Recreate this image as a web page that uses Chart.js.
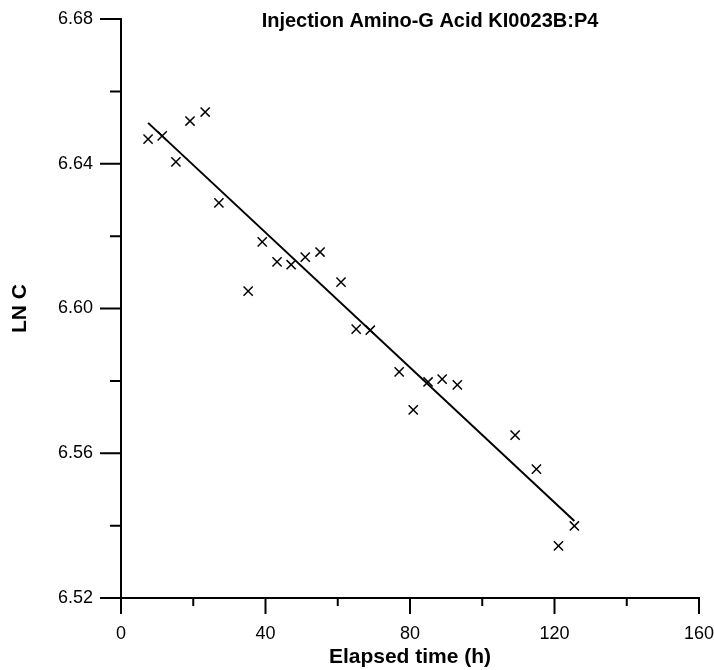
<!DOCTYPE html>
<html>
<head>
<meta charset="utf-8">
<title>Injection Amino-G Acid KI0023B:P4</title>
<script src="https://cdn.jsdelivr.net/npm/chart.js@4.4.1/dist/chart.umd.min.js"></script>
<style>
    html, body { margin: 0; padding: 0; background: #fff; }
    #wrap { width: 714px; height: 670px; }
</style>
</head>
<body>
<div id="wrap"><canvas id="lnChart" width="714" height="670"></canvas></div>
<script>
// Measured points (elapsed time in hours, ln of concentration)
const elapsedHours = [7.5, 11.4, 15.2, 19.1, 23.3, 27.1, 35.2, 39.1, 43.2, 47.1, 51.0, 55.1,
    60.9, 65.1, 69.0, 77.0, 80.9, 85.0, 88.9, 93.1, 109.1, 115.0, 121.1, 125.5];
const lnConc = [6.6468, 6.6477, 6.6405, 6.6518, 6.6543, 6.6292, 6.6048, 6.6184, 6.6129, 6.6121, 6.6142, 6.6156,
    6.6073, 6.5943, 6.5940, 6.5825, 6.5720, 6.5797, 6.5805, 6.5789, 6.5650, 6.5556, 6.5344, 6.5399];

// Fitted line end points
const fitHours = [7.5, 125.5];
const fitLnConc = [6.6513, 6.5413];

// Axis ticks
const xTicks = [0, 40, 80, 120, 160];
const yTicks = [6.52, 6.56, 6.60, 6.64, 6.68];

const FONT = '"Liberation Sans", Arial, sans-serif';

(function() {
    'use strict';

    /**
     * Major and minor tick marks drawn outside the axes, plus the title
     */
    const tickMarks = {
        id: 'tickMarks',
        afterDraw(chart) {
            const ctx = chart.ctx;
            const xs = chart.scales.x;
            const ys = chart.scales.y;
            ctx.save();
            ctx.strokeStyle = '#000';
            ctx.lineWidth = 2;
            ctx.beginPath();
            for (let i = 0; i < xTicks.length; i++) {
                const px = xs.getPixelForValue(xTicks[i]);
                ctx.moveTo(px, ys.bottom);
                ctx.lineTo(px, ys.bottom + 16);
                if (i < xTicks.length - 1) {
                    const mid = xs.getPixelForValue((xTicks[i] + xTicks[i + 1]) / 2);
                    ctx.moveTo(mid, ys.bottom);
                    ctx.lineTo(mid, ys.bottom + 8);
                }
            }
            for (let i = 0; i < yTicks.length; i++) {
                const py = ys.getPixelForValue(yTicks[i]);
                ctx.moveTo(xs.left, py);
                ctx.lineTo(xs.left - 21, py);
                if (i < yTicks.length - 1) {
                    const mid = ys.getPixelForValue((yTicks[i] + yTicks[i + 1]) / 2);
                    ctx.moveTo(xs.left, mid);
                    ctx.lineTo(xs.left - 11, mid);
                }
            }
            ctx.stroke();

            // chart title sits inside the plot, top right
            ctx.fillStyle = '#000';
            ctx.font = 'bold 20px ' + FONT;
            ctx.textAlign = 'center';
            ctx.textBaseline = 'middle';
            ctx.fillText('Injection Amino-G Acid KI0023B:P4', 430, 21);
            ctx.restore();
        }
    };

    const points = elapsedHours.map((h, i) => ({ x: h, y: lnConc[i] }));
    const fit = fitHours.map((h, i) => ({ x: h, y: fitLnConc[i] }));

    new Chart(document.getElementById('lnChart'), {
        type: 'scatter',
        data: {
            datasets: [
                {
                    label: 'LN C',
                    data: points,
                    pointStyle: 'crossRot',
                    pointRadius: 6.5,
                    pointBorderWidth: 1.5,
                    borderColor: '#000',
                    backgroundColor: '#000'
                },
                {
                    label: 'Fit',
                    type: 'line',
                    data: fit,
                    borderColor: '#000',
                    borderWidth: 2,
                    pointRadius: 0,
                    fill: false
                }
            ]
        },
        options: {
            responsive: false,
            animation: false,
            layout: {
                padding: { top: 19, right: 15, left: 0, bottom: 0 }
            },
            plugins: {
                legend: { display: false },
                tooltip: { enabled: false }
            },
            scales: {
                x: {
                    type: 'linear',
                    min: 0,
                    max: 160,
                    afterFit(scale) {
                        scale.height = 72;
                        scale.paddingLeft = 0;
                        scale.paddingRight = 0;
                    },
                    afterBuildTicks(scale) { scale.ticks = xTicks.map(v => ({ value: v })); },
                    grid: { display: false, drawTicks: false },
                    border: { display: true, color: '#000', width: 2 },
                    ticks: {
                        color: '#000',
                        padding: 25,
                        maxRotation: 0,
                        font: { family: FONT, size: 18 }
                    },
                    title: {
                        display: true,
                        text: 'Elapsed time (h)',
                        color: '#000',
                        padding: { top: 0, bottom: 0 },
                        font: { family: FONT, size: 21, weight: 'bold' }
                    }
                },
                y: {
                    type: 'linear',
                    min: 6.52,
                    max: 6.68,
                    afterFit(scale) {
                        scale.width = 121;
                        scale.paddingTop = 0;
                        scale.paddingBottom = 0;
                    },
                    afterBuildTicks(scale) { scale.ticks = yTicks.map(v => ({ value: v })); },
                    grid: { display: false, drawTicks: false },
                    border: { display: true, color: '#000', width: 2 },
                    ticks: {
                        color: '#000',
                        padding: 28,
                        font: { family: FONT, size: 18 },
                        callback: v => v.toFixed(2)
                    },
                    title: {
                        display: true,
                        text: 'LN C',
                        color: '#000',
                        padding: { top: 8, bottom: 0 },
                        font: { family: FONT, size: 21, weight: 'bold' }
                    }
                }
            }
        },
        plugins: [tickMarks]
    });
})();
</script>
</body>
</html>
